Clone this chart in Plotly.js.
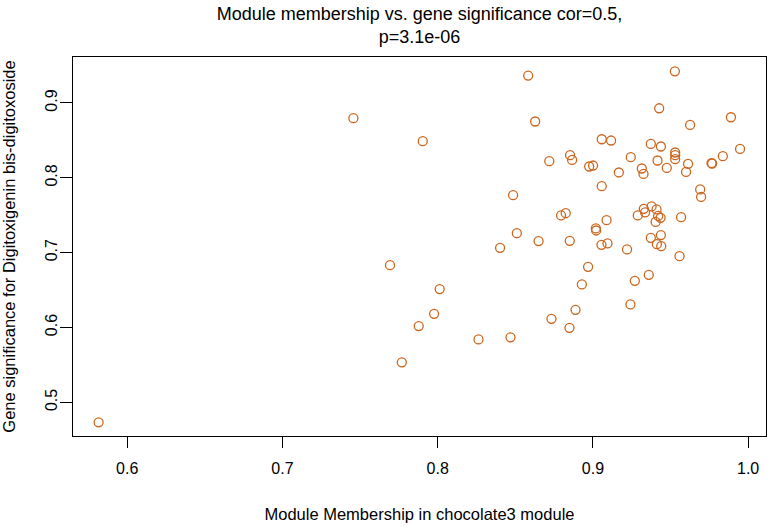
<!DOCTYPE html>
<html>
<head>
<meta charset="utf-8">
<script src="https://cdn.plot.ly/plotly-3.0.1.min.js"></script>
<style>
html,body{margin:0;padding:0;background:#fff;}
#chart{width:769px;height:526px;}
</style>
</head>
<body>
<div id="chart"></div>
<script>
// Module membership (x) and gene significance (y)
const moduleMembership = [
  0.5816, 0.7457, 0.7693, 0.7769, 0.7878, 0.7904, 0.7977, 0.8013, 0.8263, 0.8402,
  0.8469, 0.8486, 0.8510, 0.8583, 0.8628, 0.8650, 0.8719, 0.8733, 0.8795, 0.8825,
  0.8849, 0.8851, 0.8853, 0.8866, 0.8888, 0.8929, 0.8969, 0.8976, 0.9001, 0.9019,
  0.9021, 0.9055, 0.9057, 0.9057, 0.9088, 0.9094, 0.9117, 0.9167, 0.9220, 0.9242,
  0.9244, 0.9270, 0.9289, 0.9315, 0.9326, 0.9328, 0.9336, 0.9360, 0.9373, 0.9373,
  0.9378, 0.9404, 0.9410, 0.9412, 0.9416, 0.9420, 0.9427, 0.9436, 0.9438, 0.9438,
  0.9440, 0.9476, 0.9528, 0.9530, 0.9530, 0.9530, 0.9558, 0.9568, 0.9600, 0.9613,
  0.9626, 0.9691, 0.9697, 0.9764, 0.9768, 0.9837, 0.9889, 0.9948
];
const geneSignificance = [
  0.4733, 0.8796, 0.6833, 0.5534, 0.6019, 0.8489, 0.6183, 0.6513, 0.5841, 0.7064,
  0.5868, 0.7768, 0.7260, 0.9366, 0.8752, 0.7154, 0.8222, 0.6116, 0.7497, 0.7527,
  0.5996, 0.7158, 0.8302, 0.8239, 0.6236, 0.6575, 0.6810, 0.8151, 0.8164, 0.7323,
  0.7296, 0.7104, 0.8515, 0.7888, 0.7434, 0.7123, 0.8498, 0.8071, 0.7043, 0.6308,
  0.8275, 0.6624, 0.7497, 0.8124, 0.8052, 0.7585, 0.7537, 0.6704, 0.8453, 0.7198,
  0.7617, 0.7411, 0.7577, 0.7113, 0.8231, 0.7491, 0.8929, 0.7465, 0.8418, 0.7234,
  0.7087, 0.8132, 0.9423, 0.8338, 0.8302, 0.8249, 0.6953, 0.7474, 0.8079, 0.8186,
  0.8706, 0.7844, 0.7745, 0.8195, 0.8191, 0.8289, 0.8809, 0.8386
];
const xTicks = [0.6, 0.7, 0.8, 0.9, 1.0];
const xTickLabels = ["0.6", "0.7", "0.8", "0.9", "1.0"];
const yTicks = [0.5, 0.6, 0.7, 0.8, 0.9];
const yTickLabels = ["0.5", "0.6", "0.7", "0.8", "0.9"];
const titleText = "Module membership vs. gene significance cor=0.5,<br>p=3.1e-06";
const xTitle = "Module Membership in chocolate3 module";
const yTitle = "Gene significance for Digitoxigenin bis-digitoxoside";

const FONT = '"Liberation Sans", Arial, Helvetica, sans-serif';

const trace = {
  type: 'scatter',
  mode: 'markers',
  x: moduleMembership,
  y: geneSignificance,
  marker: {
    symbol: 'circle-open',
    size: 9,
    color: '#CD661D',
    line: {color: '#CD661D', width: 1.3}
  },
  hoverinfo: 'x+y'
};

const layout = {
  width: 769,
  height: 526,
  paper_bgcolor: '#ffffff',
  plot_bgcolor: '#ffffff',
  showlegend: false,
  font: {family: FONT, color: '#000000'},
  margin: {l: 73, r: 3, t: 57, b: 90, pad: 0},
  title: {
    text: titleText,
    font: {family: FONT, size: 18, color: '#000000'},
    x: 0.5, xref: 'paper',
    y: 0.962, yref: 'container', yanchor: 'top'
  },
  xaxis: {
    range: [0.5651, 1.0115],
    tickmode: 'array',
    tickvals: xTicks,
    ticktext: xTickLabels,
    ticks: 'outside',
    ticklen: 11,
    tickwidth: 1,
    tickcolor: '#000000',
    ticklabelstandoff: 7,
    tickfont: {family: FONT, size: 16, color: '#000000'},
    showline: true,
    mirror: true,
    linecolor: '#000000',
    linewidth: 1,
    showgrid: false,
    zeroline: false,
    automargin: false,
    title: {text: xTitle, font: {family: FONT, size: 16.5, color: '#000000'}, standoff: 32}
  },
  yaxis: {
    range: [0.455, 0.9614],
    tickmode: 'array',
    tickvals: yTicks,
    ticktext: yTickLabels,
    ticks: 'outside',
    ticklen: 12,
    tickwidth: 1,
    tickcolor: '#000000',
    tickangle: -90,
    ticklabelstandoff: -3,
    tickfont: {family: FONT, size: 16, color: '#000000'},
    showline: true,
    mirror: true,
    linecolor: '#000000',
    linewidth: 1,
    showgrid: false,
    zeroline: false,
    automargin: false,
    title: {text: yTitle, font: {family: FONT, size: 16.5, color: '#000000'}, standoff: 27}
  }
};

Plotly.newPlot('chart', [trace], layout, {displayModeBar: false, staticPlot: false});
</script>
</body>
</html>
